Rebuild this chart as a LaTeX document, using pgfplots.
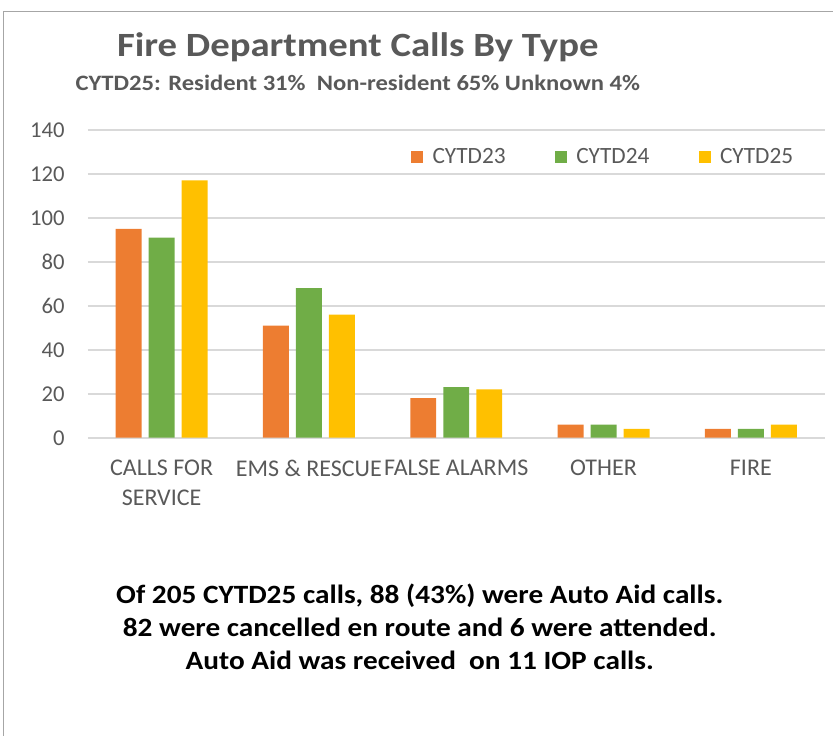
\documentclass[border=0pt]{standalone}
\usepackage{fontspec}
\setmainfont{Carlito}
\usepackage{pgfplots}
\pgfplotsset{compat=1.18}
\definecolor{c23}{HTML}{ED7D31}
\definecolor{c24}{HTML}{70AD47}
\definecolor{c25}{HTML}{FFC000}
\definecolor{txt}{HTML}{595959}
\definecolor{gridc}{HTML}{D9D9D9}
\definecolor{framec}{HTML}{A6A6A6}

\pgfplotstableread{
x  y23 y24 y25
0  95  91  117
1  51  68  56
2  18  23  22
3  6   6   4
4  4   4   6
}\calls

\begin{document}
\begin{tikzpicture}
\begin{scope}[x=0.75pt,y=-0.75pt]
\path (0,0) rectangle (833,736);
\draw[framec, line width=0.75pt] (4,736) -- (4,12) -- (833,12);
% bold text in the reference is set a little wider than Carlito
\node[font=\fontsize{25.5}{30}\selectfont\bfseries, text=txt] at (358,47)
  {\scalebox{1.14}[1]{Fire Department Calls By Type}};
\node[font=\fontsize{16.5}{19}\selectfont\bfseries, text=txt] at (358,83)
  {\scalebox{1.12}[1]{CYTD25: Resident 31\%\ \ Non-resident 65\% Unknown 4\%}};
\node[font=\fontsize{19.8}{24.75}\selectfont\bfseries, align=center] at (420,627)
  {\scalebox{1.11}[1]{Of 205 CYTD25 calls, 88 (43\%) were Auto Aid calls.}\\
   \scalebox{1.11}[1]{82 were cancelled en route and 6 were attended.}\\
   \scalebox{1.11}[1]{Auto Aid was received\ \ on 11 IOP calls.}};
\end{scope}
\begin{axis}[
    at={(66pt,-328.5pt)}, anchor=south west,
    scale only axis,
    width=552.75pt, height=231pt,
    ybar,
    ymin=0, ymax=140,
    ytick={0,20,...,140},
    xmin=-0.5, xmax=4.5,
    xtick={0,1,2,3,4},
    xticklabels={{CALLS FOR\\SERVICE},{EMS \& RESCUE},{FALSE ALARMS},{OTHER},{FIRE}},
    /pgf/number format/assume math mode=true,
    tick label style={font=\fontsize{17}{22.5}\selectfont, text=txt},
    xticklabel style={align=center, yshift=-9pt, font=\fontsize{18}{22.5}\selectfont},
    yticklabel style={xshift=-14pt},
    axis line style={draw=none},
    tick style={draw=none},
    ymajorgrids,
    major grid style={gridc, line width=1.2pt},
    bar width=0.176,
    legend columns=3,
    legend style={at={(0.70,0.912)}, anchor=center, draw=none, fill=none,
        font=\fontsize{17.5}{20}\selectfont, text=txt,
        /tikz/every even column/.append style={column sep=35pt}},
    mylegend/.style={legend image code/.code={\fill[##1] (0pt,-4.5pt) rectangle (9pt,4.5pt); \path (14pt,0pt);}},
]
\addplot[fill=c23, draw=none, bar shift=-0.224, mylegend] table[x=x, y=y23] {\calls};
\addplot[fill=c24, draw=none, bar shift=0, mylegend] table[x=x, y=y24] {\calls};
\addplot[fill=c25, draw=none, bar shift=0.224, mylegend] table[x=x, y=y25] {\calls};
\legend{CYTD23, CYTD24, CYTD25}
\end{axis}
\end{tikzpicture}
\end{document}
